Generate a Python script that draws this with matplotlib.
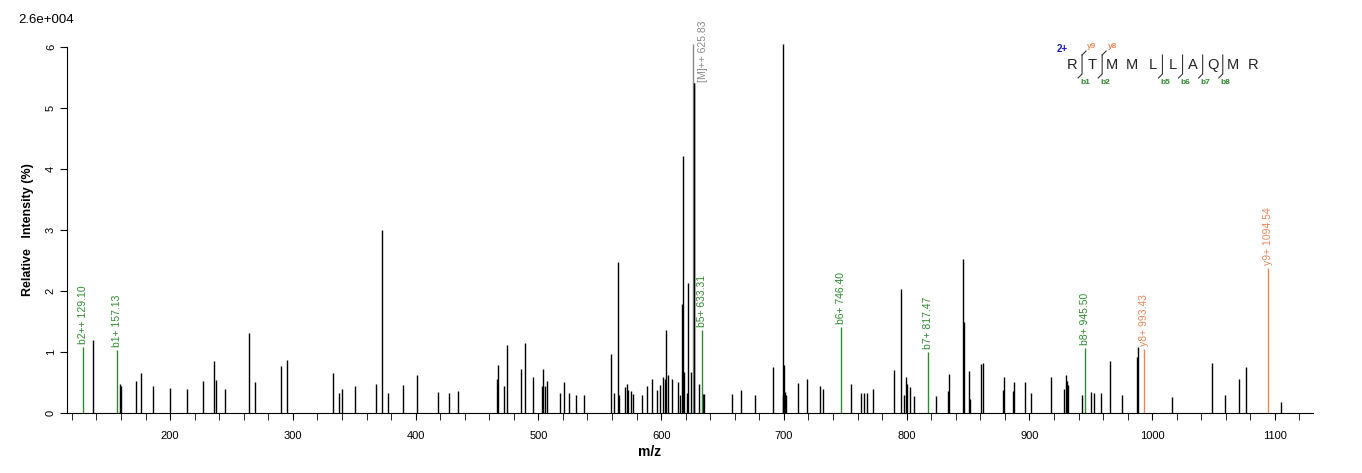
import matplotlib.pyplot as plt
from matplotlib.lines import Line2D

plt.rcParams['font.family'] = ['Liberation Sans', 'DejaVu Sans']

# unassigned peaks (m/z, relative intensity %)
peak_mz = [137.0, 159.0, 160.0, 172.5, 176.6, 186.0, 200.0, 213.8, 226.8, 235.8, 237.4, 244.8,
           264.3, 269.2, 290.4, 295.3, 332.8, 337.7, 340.1, 350.7, 367.8, 372.7, 377.1, 389.9,
           401.2, 418.4, 427.4, 434.7, 466.4, 467.2, 472.1, 474.6, 486.0, 489.3, 495.8, 503.1,
           503.9, 505.5, 507.2, 517.8, 521.0, 525.1, 530.8, 537.3, 559.3, 561.8, 565.0, 565.9,
           570.7, 572.4, 573.2, 575.6, 577.3, 584.6, 588.7, 592.7, 596.8, 599.3, 601.7, 603.3,
           604.2, 605.8, 609.1, 614.0, 615.6, 617.2, 618.0, 618.8, 621.3, 622.1, 624.6, 626.4,
           631.0, 634.3, 635.1, 657.9, 665.2, 676.6, 690.8, 699.0, 699.5, 700.3, 701.1, 701.9,
           711.7, 719.0, 729.6, 732.1, 754.9, 763.0, 765.5, 767.9, 772.8, 789.9, 795.6, 798.1,
           799.7, 800.5, 803.0, 806.2, 824.2, 834.0, 834.8, 846.2, 847.0, 851.1, 851.9, 860.9,
           862.5, 878.8, 879.6, 887.0, 887.8, 896.8, 901.6, 917.9, 928.5, 930.1, 930.9, 931.8,
           943.2, 950.5, 952.2, 958.7, 966.0, 975.8, 987.9, 988.8, 1016.5, 1049.1, 1059.7, 1071.1,
           1076.8, 1104.6]
peak_int = [1.20, 0.47, 0.45, 0.52, 0.66, 0.44, 0.41, 0.39, 0.52, 0.85, 0.54, 0.39,
            1.31, 0.50, 0.77, 0.87, 0.66, 0.33, 0.39, 0.44, 0.47, 3.00, 0.33, 0.46,
            0.62, 0.34, 0.33, 0.36, 0.56, 0.78, 0.44, 1.11, 0.72, 1.15, 0.59, 0.44,
            0.72, 0.44, 0.52, 0.33, 0.50, 0.33, 0.30, 0.30, 0.97, 0.33, 2.47, 0.30,
            0.43, 0.47, 0.38, 0.36, 0.31, 0.30, 0.44, 0.56, 0.38, 0.46, 0.59, 0.56,
            1.36, 0.62, 0.56, 0.50, 0.30, 1.79, 4.21, 0.67, 0.33, 2.13, 0.67, 5.40,
            0.47, 0.31, 0.31, 0.31, 0.38, 0.30, 0.75, 6.05, 0.30, 0.78, 0.34, 0.30,
            0.49, 0.56, 0.44, 0.39, 0.47, 0.33, 0.33, 0.33, 0.39, 0.70, 2.03, 0.30,
            0.59, 0.47, 0.43, 0.28, 0.28, 0.36, 0.64, 2.52, 1.49, 0.69, 0.23, 0.80,
            0.82, 0.38, 0.59, 0.36, 0.50, 0.50, 0.33, 0.59, 0.39, 0.62, 0.52, 0.46,
            0.30, 0.34, 0.33, 0.33, 0.85, 0.30, 0.92, 1.08, 0.26, 0.82, 0.30, 0.56,
            0.75, 0.18]

# assigned fragment ions
ion_mz = [129.10, 157.13, 633.31, 746.40, 817.47, 945.50, 993.43, 1094.54]
ion_int = [1.08, 1.03, 1.36, 1.41, 1.00, 1.07, 1.05, 2.38]
ion_labels = ['b2++ 129.10', 'b1+ 157.13', 'b5+ 633.31', 'b6+ 746.40', 'b7+ 817.47',
              'b8+ 945.50', 'y8+ 993.43', 'y9+ 1094.54']
ion_type = ['b', 'b', 'b', 'b', 'b', 'b', 'y', 'y']

# precursor
prec_mz = 625.83
prec_int = 6.05
prec_label_y = 5.42
prec_label = '[M]++ 625.83'

# peptide sequence with fragment sites (cleavage after residue index)
sequence = ['R', 'T', 'M', 'M', 'L', 'L', 'A', 'Q', 'M', 'R']
b_sites = [1, 2, 5, 6, 7, 8]
y_sites = {1: 9, 2: 8}

green = '#2E8B2E'
orange = '#E8885A'
gray = '#8A8A8A'

fig = plt.figure(figsize=(13.62, 4.73), dpi=100)
W, H = 1362, 473
ax = fig.add_axes([67 / W, 1 - 413 / H, 1246 / W, 368 / H])

ax.vlines(peak_mz, 0, peak_int, color='black', linewidth=1.0, clip_on=False)
ax.vlines(prec_mz, 0, prec_int, color=gray, linewidth=1.0, clip_on=False)
ax.vlines(peak_mz[peak_int.index(5.40)], 0, 5.40, color='black', linewidth=1.0)
ax.text(prec_mz + 8, prec_label_y, prec_label, rotation=90, ha='center', va='bottom',
        color=gray, fontsize=7.5, clip_on=False)

for mz, it, lab, t in zip(ion_mz, ion_int, ion_labels, ion_type):
    c = green if t == 'b' else orange
    ax.vlines(mz, 0, it, color=c, linewidth=1.0)
    ax.text(mz, it + 0.05, lab, rotation=90, ha='center', va='bottom', color=c,
            fontsize=7.5, clip_on=False)

ax.set_xlim(116, 1131)
ax.set_ylim(0, 6.03)
for s in ['top', 'right']:
    ax.spines[s].set_visible(False)
ax.spines['left'].set_bounds(0, 6)
ax.set_yticks(range(7))
ax.set_yticklabels([str(i) for i in range(7)], rotation=90, va='center', fontsize=8)
ax.set_xticks(range(200, 1101, 100))
ax.set_xticks(range(120, 1121, 20), minor=True)
ax.tick_params(axis='x', which='both', length=5, labelsize=8, pad=8)
ax.tick_params(axis='y', length=5, pad=3)

fig.text(28 / W, 1 - 230 / H, 'Relative   Intensity (%)', rotation=90, ha='center',
         va='center', fontsize=9, fontweight='bold')
fig.text(650 / W, 1 - 452 / H, 'm/z', ha='center', va='center', fontsize=10,
         fontweight='bold')
fig.text(18 / W, 1 - 20 / H, '2.6e+004', ha='left', va='center', fontsize=9.5)

# peptide annotation (top right)
x0, step, yl = 1072, 20.1, 65


def fx(x):
    return x / W


def fy(y):
    return 1 - y / H


fig.text(fx(1062), fy(49), '2+', color='#1A1AB0', fontsize=7, fontweight='bold',
         ha='center', va='center')
for i, aa in enumerate(sequence):
    fig.text(fx(x0 + i * step), fy(yl), aa, fontsize=10.5, ha='center', va='center',
             color='#222222')
for k in b_sites:
    xb = x0 + (k - 0.5) * step
    fig.add_artist(Line2D([fx(xb), fx(xb), fx(xb - 4)], [fy(55), fy(74), fy(78)],
                          color='#333333', linewidth=0.8))
    fig.text(fx(xb + 3), fy(82), 'b' + str(k), color=green, fontsize=6,
             fontweight='bold', ha='center', va='center')
for k, n in y_sites.items():
    xb = x0 + (k - 0.5) * step
    fig.add_artist(Line2D([fx(xb), fx(xb + 4)], [fy(55), fy(51)],
                          color='#333333', linewidth=0.8))
    fig.text(fx(xb + 10), fy(46), 'y' + str(n), color=orange, fontsize=6,
             fontweight='bold', ha='center', va='center')

fig.savefig('out.png', dpi=100)
